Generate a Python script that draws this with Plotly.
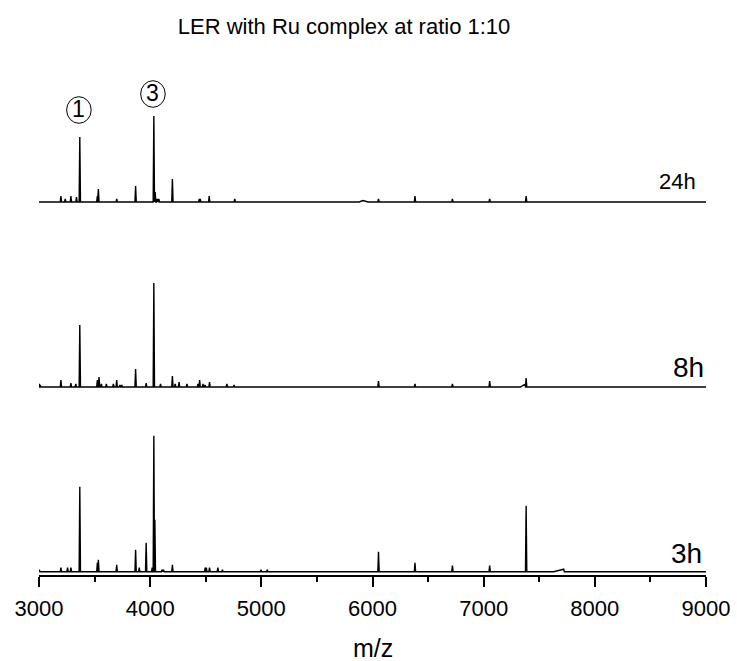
import plotly.graph_objects as go

# ---------------- data (m/z, relative intensity, a.u.) ----------------
panel_labels = ["24h", "8h", "3h"]

mz_24h = [3197, 3236, 3287, 3337, 3367, 3525, 3534, 3699, 3869, 4033, 4045,
          4063, 4078, 4200, 4442, 4450, 4531, 4761, 6054, 6382, 6719, 7054, 7382]
int_24h = [6, 3, 6, 5, 65, 6, 13, 3, 16, 86, 10,
           3, 3, 23, 3, 3, 6, 3, 3, 6, 3, 3, 6]

mz_8h = [3003, 3010, 3197, 3287, 3331, 3367, 3525, 3540, 3561, 3606, 3669, 3699,
         3728, 3745, 3869, 3964, 4033, 4093, 4200, 4225, 4260, 4331, 4430, 4445,
         4475, 4493, 4534, 4690, 4755, 6054, 6382, 6719, 7054, 7382]
int_8h = [3, 2, 7, 4, 3, 62, 7, 10, 3, 3, 3, 7,
          2, 2, 18, 4, 104, 3, 11, 3, 5, 3, 3, 7,
          3, 2, 5, 3, 2, 6, 3, 3, 6, 9]

mz_3h = [3003, 3197, 3257, 3287, 3367, 3525, 3534, 3699, 3869, 3902, 3964, 4018,
         4033, 4042, 4107, 4120, 4200, 4495, 4505, 4534, 4609, 4650, 4997, 5053,
         6054, 6382, 6719, 7054, 7382]
int_3h = [2, 4, 4, 4, 85, 9, 12, 7, 22, 4, 29, 4,
          136, 52, 2, 2, 7, 4, 4, 4, 4, 2, 2, 2,
          20, 9, 6, 6, 66]

# broad baseline features: (start, top, end, height)
bumps_24h = [(5880, 5915, 5960, 1.5)]
bumps_8h = [(7330, 7376, 7378, 3)]
bumps_3h = [(7630, 7720, 7726, 2.5)]

peak_labels = ["1", "3"]
peak_label_mz = [3367, 4033]

x_range = [3000, 9000]
x_ticks = [3000, 4000, 5000, 6000, 7000, 8000, 9000]
x_minor_ticks = [3500, 4500, 5500, 6500, 7500, 8500]
x_title = "m/z"
chart_title = "LER with Ru complex at ratio 1:10"

# ---------------- geometry (pixels) ----------------
W, H = 737, 661
PLOT_L, PLOT_R = 38.5, 706.5
PLOT_TOP, PLOT_BOT = 60, 575
PW = PLOT_R - PLOT_L
PH = PLOT_BOT - PLOT_TOP
# (baseline, panel top, panel bottom) in pixels for each spectrum
panels = [(202, 80, 215), (387, 265, 398), (571.7, 420, 575)]

FONT = "Liberation Sans, Arial, sans-serif"


def stick(mz, inten, bumps, half=6):
    feats = []
    for m, h in zip(mz, inten):
        feats.append([(m - half, 0.0), (m, float(h)), (m + half, 0.0)])
    for s, t, e, h in bumps:
        feats.append([(s, 0.0), (t, float(h)), (e, 0.0)])
    feats.sort(key=lambda f: f[1][0])
    xs, ys = [x_range[0]], [0.0]
    for f in feats:
        for px, py in f:
            xs.append(px)
            ys.append(py)
    xs.append(x_range[1])
    ys.append(0.0)
    return xs, ys


series = [(mz_24h, int_24h, bumps_24h), (mz_8h, int_8h, bumps_8h), (mz_3h, int_3h, bumps_3h)]

fig = go.Figure()
layout_axes = {}
for i, ((mz, inten, bumps), (base, ptop, pbot)) in enumerate(zip(series, panels)):
    yname = "y" if i == 0 else f"y{i+1}"
    xs, ys = stick(mz, inten, bumps)
    fig.add_trace(go.Scatter(x=xs, y=ys, mode="lines", xaxis="x", yaxis=yname,
                             line=dict(color="black", width=1.4),
                             hoverinfo="skip", showlegend=False))
    d0 = (PLOT_BOT - pbot) / PH
    d1 = (PLOT_BOT - ptop) / PH
    key = "yaxis" if i == 0 else f"yaxis{i+1}"
    layout_axes[key] = dict(domain=[d0, d1], range=[base - pbot, base - ptop],
                            visible=False, fixedrange=True, anchor="x",
                            automargin=False)

fig.update_layout(**layout_axes)

fig.update_layout(
    width=W, height=H,
    margin=dict(l=PLOT_L, r=W - PLOT_R, t=PLOT_TOP, b=H - PLOT_BOT, autoexpand=False),
    paper_bgcolor="white", plot_bgcolor="white",
    font=dict(family=FONT, color="black"),
    xaxis=dict(range=x_range, anchor="y3", showgrid=False, zeroline=False,
               automargin=False,
               showline=True, linecolor="black", linewidth=1.5,
               ticks="outside", ticklen=10, tickwidth=1.5, tickcolor="black",
               tickmode="array", tickvals=x_ticks,
               ticktext=[str(t) for t in x_ticks],
               ticklabelstandoff=3,
               minor=dict(tickmode="array", tickvals=x_minor_ticks,
                          ticks="outside", ticklen=5, tickwidth=1.5, tickcolor="black"),
               tickfont=dict(size=22, family=FONT)),
    title=dict(text=chart_title, x=(344 - PLOT_L) / PW, xref="paper",
               xanchor="center", y=1 - 26 / H, yanchor="middle",
               font=dict(size=22, family=FONT)),
)

# x-axis title as centred text below the tick labels
fig.add_annotation(text=x_title, xref="paper", yref="paper",
                   x=0.5, y=(PLOT_BOT - 648) / PH, xanchor="center", yanchor="middle",
                   showarrow=False, font=dict(size=25, family=FONT))

# panel labels: (right edge px, text baseline px, font size)
label_pos = [(697, 190, 22), (705, 377, 28), (703, 563, 28)]
for txt, (xr, yb, fs) in zip(panel_labels, label_pos):
    fig.add_annotation(text=txt, xref="paper", yref="paper",
                       x=(xr - PLOT_L) / PW, y=(PLOT_BOT - (yb + 0.24 * fs)) / PH,
                       xanchor="right", yanchor="bottom", showarrow=False,
                       font=dict(size=fs, family=FONT), borderpad=0)

# circled peak labels on top spectrum
label_gap = [27, 22]
mz_per_px = (x_range[1] - x_range[0]) / PW
for txt, m, gap in zip(peak_labels, peak_label_mz, label_gap):
    h = int_24h[mz_24h.index(m)]
    cx = m - 8
    cy = h + gap
    fig.add_shape(type="circle", xref="x", yref="y",
                  x0=cx - 12.3 * mz_per_px, x1=cx + 12.3 * mz_per_px,
                  y0=cy - 13.3, y1=cy + 13.3, line=dict(color="black", width=1))
    fig.add_annotation(text=txt, xref="x", yref="y", x=cx, y=cy + 1,
                       showarrow=False, font=dict(size=23, family=FONT),
                       xanchor="center", yanchor="middle")

fig.write_html("out.html")
